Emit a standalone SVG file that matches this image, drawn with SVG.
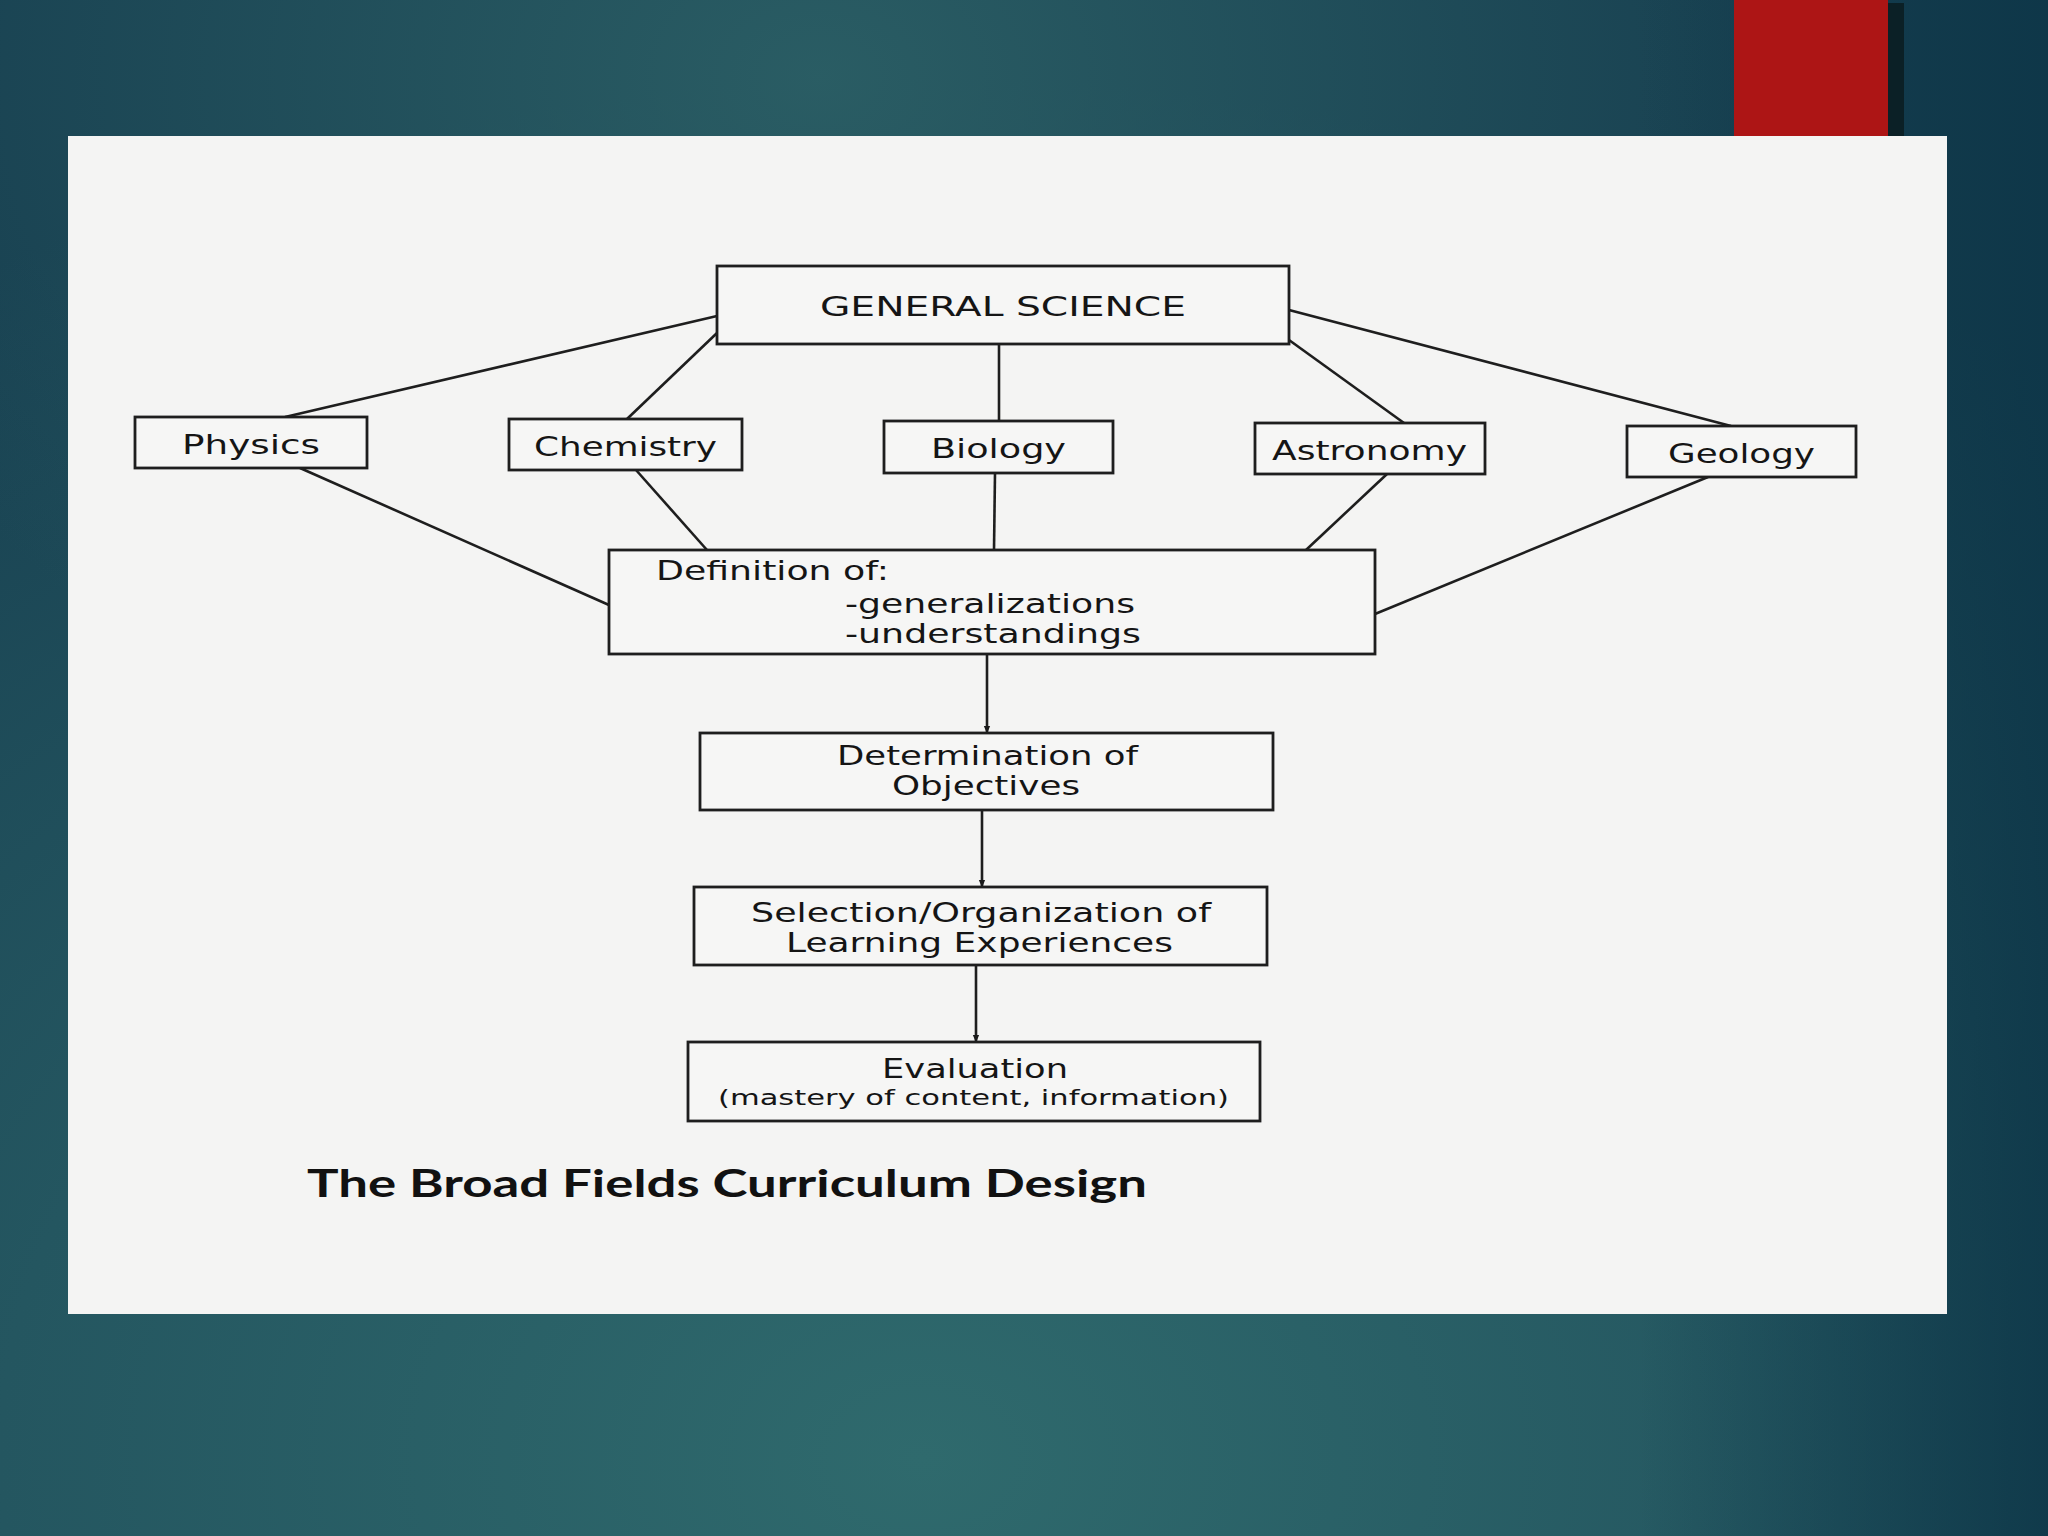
<svg xmlns="http://www.w3.org/2000/svg" width="2048" height="1536" viewBox="0 0 2048 1536">
<defs>
<radialGradient id="bg" cx="0.45" cy="0.95" r="0.9">
<stop offset="0" stop-color="#2f6a6d"/>
<stop offset="0.5" stop-color="#245660"/>
<stop offset="1" stop-color="#173f50"/>
</radialGradient>
<radialGradient id="bgtop" cx="0.4" cy="0.05" r="0.5">
<stop offset="0" stop-color="#2c6066" stop-opacity="0.9"/>
<stop offset="1" stop-color="#2c6066" stop-opacity="0"/>
</radialGradient>
<linearGradient id="rightdark" x1="0" y1="0" x2="1" y2="0">
<stop offset="0.8" stop-color="#0c3547" stop-opacity="0"/>
<stop offset="1" stop-color="#0c3547" stop-opacity="0.8"/>
</linearGradient>
<marker id="arr" viewBox="0 0 10 10" refX="9" refY="5" markerWidth="8" markerHeight="8" orient="auto" markerUnits="userSpaceOnUse">
<path d="M0,1 L10,5 L0,9 Z" fill="#1a1a1a"/>
</marker>
<style>
.box{fill:#f6f6f5;stroke:#1e1e1e;stroke-width:2.8}
.t{font-family:"DejaVu Sans","Liberation Sans",sans-serif;font-size:27px;fill:#151515}
.ts{font-family:"DejaVu Sans","Liberation Sans",sans-serif;font-size:22px;fill:#151515}
.ln{stroke:#1e1e1e;stroke-width:2.6;fill:none}
.title{font-family:"Lato","Open Sans",sans-serif;font-weight:bold;font-size:38px;fill:#111}
</style>
</defs>
<rect x="0" y="0" width="2048" height="1536" fill="url(#bg)"/>
<rect x="0" y="0" width="2048" height="1536" fill="url(#bgtop)"/>
<rect x="0" y="0" width="2048" height="1536" fill="url(#rightdark)"/>
<rect x="1734" y="0" width="154" height="136" fill="#ad1515"/>
<rect x="1888" y="3" width="16" height="133" fill="#0b2026"/>
<rect x="68" y="136" width="1879" height="1178" fill="#f4f4f3"/>

<g id="connectors">
<line class="ln" x1="717" y1="316" x2="285" y2="417"/>
<line class="ln" x1="717" y1="333" x2="627" y2="419"/>
<line class="ln" x1="999" y1="344" x2="999" y2="421"/>
<line class="ln" x1="1289" y1="340" x2="1404" y2="423"/>
<line class="ln" x1="1289" y1="310" x2="1731" y2="426"/>
<line class="ln" x1="300" y1="468" x2="609" y2="605"/>
<line class="ln" x1="636" y1="470" x2="707" y2="550"/>
<line class="ln" x1="995" y1="473" x2="994" y2="550"/>
<line class="ln" x1="1387" y1="474" x2="1306" y2="550"/>
<line class="ln" x1="1708" y1="477" x2="1375" y2="614"/>
<line class="ln" x1="987" y1="654" x2="987" y2="733" marker-end="url(#arr)"/>
<line class="ln" x1="982" y1="810" x2="982" y2="887" marker-end="url(#arr)"/>
<line class="ln" x1="976" y1="965" x2="976" y2="1042" marker-end="url(#arr)"/>
</g>

<g id="general-science">
<rect class="box" x="717" y="266" width="572" height="78"/>
<text class="t" x="820" y="316" textLength="366" lengthAdjust="spacingAndGlyphs">GENERAL SCIENCE</text>
</g>
<g id="physics">
<rect class="box" x="135" y="417" width="232" height="51"/>
<text class="t" x="182" y="454" textLength="138" lengthAdjust="spacingAndGlyphs">Physics</text>
</g>
<g id="chemistry">
<rect class="box" x="509" y="419" width="233" height="51"/>
<text class="t" x="534" y="456" textLength="183" lengthAdjust="spacingAndGlyphs">Chemistry</text>
</g>
<g id="biology">
<rect class="box" x="884" y="421" width="229" height="52"/>
<text class="t" x="931" y="458" textLength="135" lengthAdjust="spacingAndGlyphs">Biology</text>
</g>
<g id="astronomy">
<rect class="box" x="1255" y="423" width="230" height="51"/>
<text class="t" x="1272" y="460" textLength="195" lengthAdjust="spacingAndGlyphs">Astronomy</text>
</g>
<g id="geology">
<rect class="box" x="1627" y="426" width="229" height="51"/>
<text class="t" x="1668" y="463" textLength="147" lengthAdjust="spacingAndGlyphs">Geology</text>
</g>
<g id="definition">
<rect class="box" x="609" y="550" width="766" height="104"/>
<text class="t" x="656" y="580" textLength="233" lengthAdjust="spacingAndGlyphs">Definition of:</text>
<text class="t" x="845" y="613" textLength="290" lengthAdjust="spacingAndGlyphs">-generalizations</text>
<text class="t" x="845" y="643" textLength="296" lengthAdjust="spacingAndGlyphs">-understandings</text>
</g>
<g id="determination">
<rect class="box" x="700" y="733" width="573" height="77"/>
<text class="t" x="837" y="765" textLength="301" lengthAdjust="spacingAndGlyphs">Determination of</text>
<text class="t" x="892" y="795" textLength="188" lengthAdjust="spacingAndGlyphs">Objectives</text>
</g>
<g id="selection">
<rect class="box" x="694" y="887" width="573" height="78"/>
<text class="t" x="751" y="922" textLength="460" lengthAdjust="spacingAndGlyphs">Selection/Organization of</text>
<text class="t" x="786" y="952" textLength="387" lengthAdjust="spacingAndGlyphs">Learning Experiences</text>
</g>
<g id="evaluation">
<rect class="box" x="688" y="1042" width="572" height="79"/>
<text class="t" x="882" y="1078" textLength="186" lengthAdjust="spacingAndGlyphs">Evaluation</text>
<text class="ts" x="718" y="1105" textLength="511" lengthAdjust="spacingAndGlyphs">(mastery of content, information)</text>
</g>
<text class="title" x="307" y="1197" textLength="840" lengthAdjust="spacingAndGlyphs">The Broad Fields Curriculum Design</text>
</svg>
